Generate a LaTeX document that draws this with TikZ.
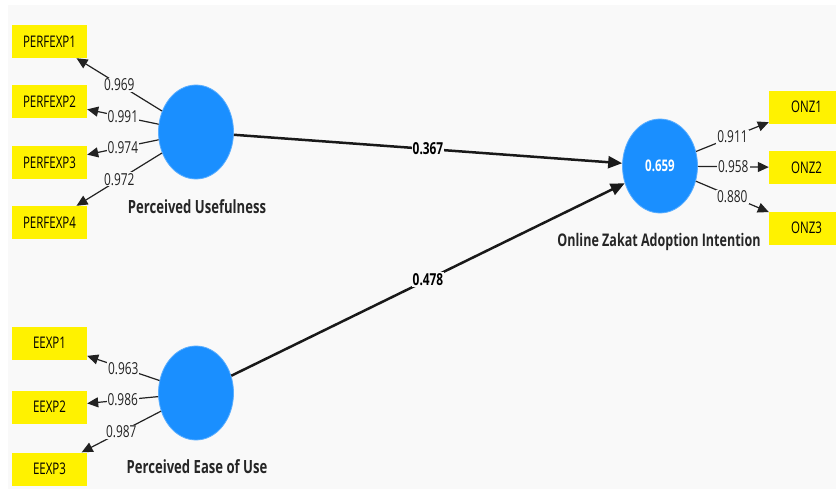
\documentclass[tikz,border=0pt]{standalone}
\usepackage{fontspec}
\setmainfont{Open Sans}[FakeStretch=0.72]
\usetikzlibrary{arrows.meta, shapes.geometric}
\definecolor{panel}{HTML}{F9F9F9}
\definecolor{lvblue}{HTML}{1A8FFF}
\definecolor{lvedge}{HTML}{5AAEFF}
\definecolor{loadgray}{HTML}{222222}

\begin{document}
\begin{tikzpicture}[x=1pt, y=-1pt,
    ind/.style={fill=yellow, minimum width=75pt, minimum height=33pt, inner sep=0pt, font=\fontsize{16}{18}\selectfont},
    lv/.style={ellipse, fill=lvblue, draw=lvedge, line width=0.8pt, minimum width=75pt, minimum height=94pt, inner sep=0pt, text=white, font=\fontsize{16}{18}\selectfont\bfseries},
    lvname/.style={font=\fontsize{18.2}{20}\selectfont\bfseries, text=black!85},
    load/.style={draw=loadgray, line width=1.2pt, -{Triangle[length=11pt,width=10pt]}},
    coef/.style={draw=black!90, line width=2.5pt, -{Triangle[length=14pt,width=12pt]}},
    wt/.style={fill=panel, inner sep=1pt, text=loadgray, font=\fontsize{16.5}{18}\selectfont},
    cw/.style={fill=panel, inner sep=1pt, font=\fontsize{16.5}{18}\selectfont\bfseries}]
    \useasboundingbox (0,0) rectangle (836,498);
    \fill[white] (0,0) rectangle (836,498);
    \fill[panel] (8,5) rectangle (836,489);
    \begin{scope}
    \clip (0,0) rectangle (836,498);
    % latent variables
    \node[lv] (pu) at (196,132) {};
    \node[lv] (peu) at (196,393) {};
    \node[lv] (ozai) at (660,166) {0.659};
    \node[lvname] (pulab) at (197,207) {Perceived Usefulness};
    \node[lvname] (peulab) at (197,467) {Perceived Ease of Use};
    \node[lvname, font=\fontsize{17.4}{19}\selectfont\bfseries] (ozailab) at (659,242) {Online Zakat Adoption Intention};
    % indicators
    \foreach \i/\y in {1/41.5, 2/101.5, 3/162.5, 4/222.5}
        \node[ind] (pe\i) at (49.5,\y) {PERFEXP\i};
    \foreach \i/\y in {1/343, 2/407, 3/469}
        \node[ind] (ee\i) at (49.5,\y) {EEXP\i};
    \foreach \i/\y in {1/107, 2/167.5, 3/228}
        \node[ind] (onz\i) at (806.5,\y) {ONZ\i};
    % outer loadings
    \foreach \i/\w in {1/0.969, 2/0.991, 3/0.974, 4/0.972}
        \draw[load] (pu) -- (pe\i) node[wt, midway] {\w};
    \foreach \i/\w in {1/0.963, 2/0.986, 3/0.987}
        \draw[load] (peu) -- (ee\i) node[wt, midway] {\w};
    \foreach \i/\w in {1/0.911, 2/0.958, 3/0.880}
        \draw[load] (ozai) -- (onz\i) node[wt, midway] {\w};
    % path coefficients
    \draw[coef] (pu) -- (ozai) node[cw, midway] {0.367};
    \draw[coef] (peu) -- (ozai) node[cw, midway] {0.478};
    \end{scope}
\end{tikzpicture}
\end{document}
